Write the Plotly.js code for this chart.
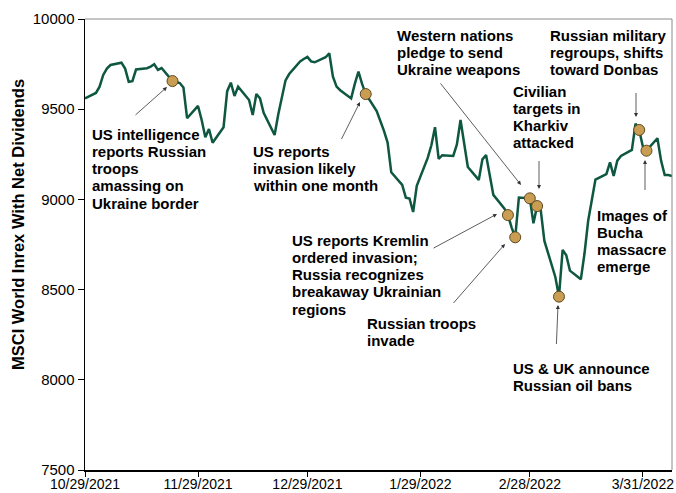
<!DOCTYPE html>
<html>
<head>
<meta charset="utf-8">
<script src="https://cdn.plot.ly/plotly-3.0.1.min.js"></script>
<style>html,body{margin:0;padding:0;background:#fff;}#chart{width:676px;height:493px;}</style>
</head>
<body>
<div id="chart"></div>
<script>
// ---- data ----
const dates = [
 "2021-10-29","2021-11-01","2021-11-02","2021-11-03","2021-11-04","2021-11-05",
 "2021-11-08","2021-11-09","2021-11-10","2021-11-11","2021-11-12",
 "2021-11-15","2021-11-16","2021-11-17","2021-11-18","2021-11-19",
 "2021-11-22","2021-11-23","2021-11-24","2021-11-25","2021-11-26",
 "2021-11-29","2021-11-30","2021-12-01","2021-12-02","2021-12-03",
 "2021-12-06","2021-12-07","2021-12-08","2021-12-09","2021-12-10",
 "2021-12-13","2021-12-14","2021-12-15","2021-12-16","2021-12-17",
 "2021-12-20","2021-12-21","2021-12-22","2021-12-23","2021-12-24",
 "2021-12-27","2021-12-28","2021-12-29","2021-12-30","2021-12-31",
 "2022-01-03","2022-01-04","2022-01-05","2022-01-06","2022-01-07",
 "2022-01-10","2022-01-11","2022-01-12","2022-01-13","2022-01-14",
 "2022-01-17","2022-01-18","2022-01-19","2022-01-20","2022-01-21",
 "2022-01-24","2022-01-25","2022-01-26","2022-01-27","2022-01-28",
 "2022-01-31","2022-02-01","2022-02-02","2022-02-03","2022-02-04",
 "2022-02-07","2022-02-08","2022-02-09","2022-02-10","2022-02-11",
 "2022-02-14","2022-02-15","2022-02-16","2022-02-17","2022-02-18",
 "2022-02-21","2022-02-22","2022-02-23","2022-02-24","2022-02-25",
 "2022-02-28","2022-03-01","2022-03-02","2022-03-03","2022-03-04",
 "2022-03-07","2022-03-08","2022-03-09","2022-03-10","2022-03-11",
 "2022-03-14","2022-03-15","2022-03-16","2022-03-17","2022-03-18",
 "2022-03-21","2022-03-22","2022-03-23","2022-03-24","2022-03-25",
 "2022-03-28","2022-03-29","2022-03-30","2022-03-31","2022-04-01",
 "2022-04-04","2022-04-05","2022-04-06","2022-04-07","2022-04-08"
];
const msciValues = [
 9560,9590,9625,9690,9725,9745,
 9758,9725,9652,9655,9720,
 9727,9736,9749,9718,9728,
 9656,9650,9645,9620,9450,
 9518,9440,9345,9390,9314,
 9400,9600,9647,9573,9625,
 9551,9468,9584,9560,9480,
 9357,9470,9560,9660,9695,
 9765,9778,9790,9765,9760,
 9788,9810,9680,9625,9605,
 9560,9640,9708,9640,9584,
 9490,9440,9380,9315,9150,
 9080,9010,9005,8930,9075,
 9230,9300,9400,9225,9245,
 9241,9305,9440,9305,9180,
 9108,9222,9246,9140,9025,
 8950,8913,8845,8790,9010,
 9006,8868,8963,8940,8770,
 8570,8461,8720,8690,8605,
 8557,8700,8880,8995,9110,
 9140,9205,9130,9215,9241,
 9274,9420,9385,9293,9270,
 9339,9215,9135,9135,9130
];
const eventDates = ["2021-11-22","2022-01-14","2022-02-22","2022-02-24","2022-02-28","2022-03-02","2022-03-08","2022-03-30","2022-04-01"];
const eventLabels = [
 ["US intelligence","reports Russian","troops","amassing on","Ukraine border"],
 ["US reports","invasion likely","within one month"],
 ["US reports Kremlin","ordered invasion;","Russia recognizes","breakaway Ukrainian","regions"],
 ["Russian troops","invade"],
 ["Western nations","pledge to send","Ukraine weapons"],
 ["Civilian","targets in","Kharkiv","attacked"],
 ["US & UK announce","Russian oil bans"],
 ["Russian military","regroups, shifts","toward Donbas"],
 ["Images of","Bucha","massacre","emerge"]
];
const tickDates = ["2021-10-29","2021-11-29","2021-12-29","2022-01-29","2022-02-28","2022-03-31"];
const tickLabels = ["10/29/2021","11/29/2021","12/29/2021","1/29/2022","2/28/2022","3/31/2022"];
const yTitle = "MSCI World Inrex With Net Dividends";

// ---- layout helpers (pixel placement of labels & arrows) ----
const PL = 85, PR = 672, PT = 19, PB = 470;
const px2x = p => (p - PL) / (PR - PL);
const px2y = p => (PB - p) / (PB - PT);
// label placement: left x, first line centre y (same order as eventLabels)
const labelPos = [[92,134],[253,151],[292,240],[367,323],[397,35],[513,91],[513,368],[550,35],[597,215]];
const lineGap = 17.3;
// arrows: [tailX, tailY, headX, headY]
const arrows = [
 [132,118,167,87],[338,146,360,102],[430,250,497,214],[450,307,505,244],
 [437,79,521,185],[539,151,539,189],[556,354,558,305],[636,83,636,117],[645,200,645,160]
];

const eventValues = eventDates.map(d => msciValues[dates.indexOf(d)]);

const annotations = [];
const FONT = "Liberation Sans, Arial, sans-serif";
eventLabels.forEach((lines, i) => {
  lines.forEach((ln, j) => {
    annotations.push({
      text: "<b>" + ln.replace(/&/g, "&amp;") + "</b>",
      xref: "paper", yref: "paper",
      x: px2x(labelPos[i][0] - 2), y: px2y(labelPos[i][1] + j * lineGap),
      xanchor: "left", yanchor: "middle", showarrow: false,
      font: {family: FONT, size: 15, color: "#000"}
    });
  });
  const a = arrows[i];
  annotations.push({
    text: " ", xref: "paper", yref: "paper",
    x: px2x(a[2]), y: px2y(a[3]),
    ax: a[0] - a[2], ay: a[1] - a[3],
    showarrow: true, arrowhead: 2, arrowsize: 1, arrowwidth: 0.8, arrowcolor: "#333",
    standoff: 0, startstandoff: 0
  });
});
annotations.push({
  text: "<b>" + yTitle + "</b>", xref: "paper", yref: "paper",
  x: px2x(18), y: px2y(225), xanchor: "center", yanchor: "middle",
  textangle: -90, showarrow: false,
  font: {family: FONT, size: 16.5, color: "#000"}
});

const traces = [
  {x: dates, y: msciValues, type: "scatter", mode: "lines",
   line: {color: "#0e5740", width: 2.5}, hoverinfo: "x+y", name: "MSCI World"},
  {x: eventDates, y: eventValues, type: "scatter", mode: "markers",
   marker: {color: "#c99d52", size: 11, line: {color: "#5e4a22", width: 1}}, name: "Events"}
];

const layout = {
  width: 676, height: 493,
  margin: {l: PL, r: 676 - PR, t: PT, b: 493 - PB},
  paper_bgcolor: "#fff", plot_bgcolor: "#fff",
  showlegend: false,
  font: {family: FONT, size: 15, color: "#000"},
  xaxis: {
    type: "date", range: ["2021-10-29", "2022-04-08"],
    tickvals: tickDates, ticktext: tickLabels,
    showgrid: false, zeroline: false, showline: true, linecolor: "#000", linewidth: 1.5,
    ticks: "outside", ticklen: 5, tickcolor: "#000", tickwidth: 1,
    ticklabelstandoff: -4, ticklabeloverflow: "allow",
    tickfont: {family: FONT, size: 14, color: "#000"}
  },
  yaxis: {
    range: [7500, 10000], dtick: 500, tick0: 7500, tickformat: "d",
    showgrid: false, zeroline: false, showline: true, linecolor: "#000", linewidth: 1.5,
    ticks: "outside", ticklen: 6, tickcolor: "#000", tickwidth: 1,
    tickfont: {family: FONT, size: 15, color: "#000"}
  },
  shapes: [
    {type: "line", xref: "paper", yref: "paper", x0: 0, x1: 1, y0: 1, y1: 1, line: {color: "#8a8a8a", width: 1}},
    {type: "line", xref: "paper", yref: "paper", x0: 1, x1: 1, y0: 0, y1: 1, line: {color: "#8a8a8a", width: 1}}
  ],
  annotations: annotations
};

Plotly.newPlot("chart", traces, layout, {displayModeBar: false, staticPlot: true});
</script>
</body>
</html>
